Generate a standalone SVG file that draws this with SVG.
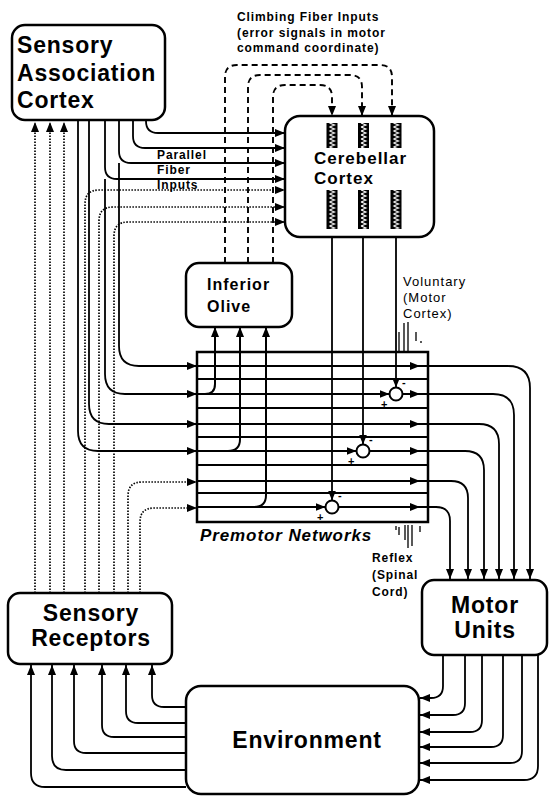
<svg xmlns="http://www.w3.org/2000/svg" width="550" height="798" viewBox="0 0 550 798">
<style>
.box{fill:#fff;stroke:#000;stroke-width:2.5}
.ln{fill:none;stroke:#000;stroke-width:1.8}
.dot{fill:none;stroke:#000;stroke-width:1.7;stroke-dasharray:1.5 1.5}
.dash{fill:none;stroke:#000;stroke-width:1.9;stroke-dasharray:6 4}
.gl{fill:none;stroke:#000;stroke-width:2}
.hm{fill:none;stroke:#000;stroke-width:1.3}
text{font-family:"Liberation Sans",Arial,Helvetica,sans-serif;fill:#000}
.big{font-size:23px;font-weight:bold;letter-spacing:0.8px}
.mid{font-size:17px;font-weight:bold;letter-spacing:1px}
.sm{font-size:12px;font-weight:bold;letter-spacing:0.9px}
.vol{font-size:13px;letter-spacing:1px}
.sign{font-size:11px;font-weight:bold}
</style>
<defs>
<marker id="ah" viewBox="0 0 10 8" refX="10" refY="4" markerWidth="10" markerHeight="8" markerUnits="userSpaceOnUse" orient="auto"><path d="M0,0 L10,4 L0,8 z" fill="#000"/></marker>
<pattern id="hatch" width="11" height="4" patternUnits="userSpaceOnUse"><rect width="11" height="4" fill="#000"/><path d="M3,0 L8,2 L3,4" stroke="#fff" stroke-width="1.1" fill="none"/></pattern>
<rect id="barT" width="11" height="25" fill="url(#hatch)"/>
<rect id="barB" width="11" height="39" fill="url(#hatch)"/>
</defs>
<rect width="550" height="798" fill="#fff"/>

<g id="connectors">
<!-- climbing fibers -->
<path class="dash" d="M225,263 V77 Q225,65 237,65 H380 Q392,65 392,77 V116" marker-end="url(#ah)"/>
<path class="dash" d="M248,263 V87 Q248,75 260,75 H350 Q362,75 362,87 V116" marker-end="url(#ah)"/>
<path class="dash" d="M273,263 V97 Q273,85 285,85 H320 Q332,85 332,97 V116" marker-end="url(#ah)"/>
<!-- parallel fibers from SAC -->
<path class="ln" d="M146,120 V121 Q146,133 158,133 H285" marker-end="url(#ah)"/>
<path class="ln" d="M133,120 V136 Q133,148 145,148 H285" marker-end="url(#ah)"/>
<path class="ln" d="M119,120 V151 Q119,163 131,163 H285" marker-end="url(#ah)"/>
<path class="ln" d="M105,120 V167 Q105,179 117,179 H285" marker-end="url(#ah)"/>
<!-- SAC to premotor -->
<path class="ln" d="M119,163 V346 Q119,366 139,366 H197" marker-end="url(#ah)"/>
<path class="ln" d="M105,179 V374 Q105,394 125,394 H197" marker-end="url(#ah)"/>
<path class="ln" d="M89,120 V404 Q89,424 109,424 H197" marker-end="url(#ah)"/>
<path class="ln" d="M78,120 V431 Q78,451 98,451 H197" marker-end="url(#ah)"/>
<!-- dotted from sensory receptors -->
<path class="dot" d="M35,593 V122" marker-end="url(#ah)"/>
<path class="dot" d="M50,593 V122" marker-end="url(#ah)"/>
<path class="dot" d="M64,593 V122" marker-end="url(#ah)"/>
<path class="dot" d="M85,593 V204 Q85,190 99,190 H285" marker-end="url(#ah)"/>
<path class="dot" d="M99,593 V221 Q99,207 113,207 H285" marker-end="url(#ah)"/>
<path class="dot" d="M114,593 V236 Q114,222 128,222 H285" marker-end="url(#ah)"/>
<path class="dot" d="M128,593 V496 Q128,482 142,482 H197" marker-end="url(#ah)"/>
<path class="dot" d="M140,593 V522 Q140,508 154,508 H197" marker-end="url(#ah)"/>
<!-- grid lines -->
<path class="gl" d="M197,379 H428 M197,408 H428 M197,437 H428 M197,465 H428 M197,493 H428"/>
<path class="gl" d="M197,366 H420" marker-end="url(#ah)"/>
<path class="gl" d="M197,424 H420" marker-end="url(#ah)"/>
<path class="gl" d="M197,481 H420" marker-end="url(#ah)"/>
<path class="gl" d="M197,394 H389.5" marker-end="url(#ah)"/>
<path class="gl" d="M197,451 H356.5" marker-end="url(#ah)"/>
<path class="gl" d="M197,507 H325.5" marker-end="url(#ah)"/>
<path class="gl" d="M402.5,394 H420" marker-end="url(#ah)"/>
<path class="gl" d="M369.5,451 H420" marker-end="url(#ah)"/>
<path class="gl" d="M338.5,507 H420" marker-end="url(#ah)"/>
<!-- to inferior olive -->
<path class="gl" d="M197,394 H205 Q215,394 215,384 V327" marker-end="url(#ah)"/>
<path class="gl" d="M222,451 H228 Q240,451 240,439 V327" marker-end="url(#ah)"/>
<path class="gl" d="M250,507 H254 Q266,507 266,495 V327" marker-end="url(#ah)"/>
<!-- cerebellar outputs to summing nodes -->
<path class="ln" d="M396,237 V387.5" marker-end="url(#ah)"/>
<path class="ln" d="M363,237 V444.5" marker-end="url(#ah)"/>
<path class="ln" d="M332,237 V500.5" marker-end="url(#ah)"/>
<!-- premotor to motor units -->
<path class="ln" d="M420,366 H508 Q530,366 530,388 V579" marker-end="url(#ah)"/>
<path class="ln" d="M420,394 H493 Q514,394 514,415 V579" marker-end="url(#ah)"/>
<path class="ln" d="M420,424 H479 Q499,424 499,444 V579" marker-end="url(#ah)"/>
<path class="ln" d="M420,451 H465 Q484,451 484,470 V579" marker-end="url(#ah)"/>
<path class="ln" d="M420,481 H451 Q468,481 468,498 V579" marker-end="url(#ah)"/>
<path class="ln" d="M420,507 H436 Q450,507 450,521 V579" marker-end="url(#ah)"/>
<!-- motor units to environment -->
<path class="ln" d="M443,655 V686 Q443,698 431,698 H420" marker-end="url(#ah)"/>
<path class="ln" d="M465,655 V703 Q465,715 453,715 H420" marker-end="url(#ah)"/>
<path class="ln" d="M482,655 V720 Q482,732 470,732 H420" marker-end="url(#ah)"/>
<path class="ln" d="M503,655 V735 Q503,747 491,747 H420" marker-end="url(#ah)"/>
<path class="ln" d="M522,655 V751 Q522,763 510,763 H420" marker-end="url(#ah)"/>
<path class="ln" d="M538,655 V766 Q538,780 524,780 H420" marker-end="url(#ah)"/>
<!-- environment to sensory receptors -->
<path class="ln" d="M186,707 H164 Q152,707 152,695 V665" marker-end="url(#ah)"/>
<path class="ln" d="M186,723 H138 Q126,723 126,711 V665" marker-end="url(#ah)"/>
<path class="ln" d="M186,737 H114 Q102,737 102,725 V665" marker-end="url(#ah)"/>
<path class="ln" d="M186,753 H86 Q74,753 74,741 V665" marker-end="url(#ah)"/>
<path class="ln" d="M186,770 H66 Q52,770 52,756 V665" marker-end="url(#ah)"/>
<path class="ln" d="M186,787 H45 Q31,787 31,773 V665" marker-end="url(#ah)"/>
<!-- voluntary / reflex hatch marks -->
<path class="hm" d="M399,332 V352 M404,323 V352 M408,322 V352 M416,332 V341 M421,341 V343"/>
<path class="hm" d="M396,526 V530 M399,527 V535 M405,525 V540 M408,525 V548 M412,525 V546 M420,526 V532"/>
</g>

<g id="premotor">
<rect x="197" y="352" width="231" height="170" fill="none" stroke="#000" stroke-width="2.5"/>
<circle cx="396" cy="394" r="6.5" fill="#fff" stroke="#000" stroke-width="2"/>
<circle cx="363" cy="451" r="6.5" fill="#fff" stroke="#000" stroke-width="2"/>
<circle cx="332" cy="507" r="6.5" fill="#fff" stroke="#000" stroke-width="2"/>
<text class="sign" x="381" y="408">+</text><text class="sign" x="402" y="386">-</text>
<text class="sign" x="348" y="465">+</text><text class="sign" x="369" y="443">-</text>
<text class="sign" x="317" y="521">+</text><text class="sign" x="338" y="499">-</text>
<text x="200" y="541" style="font-size:17px;font-weight:bold;font-style:italic;letter-spacing:0.9px">Premotor Networks</text>
</g>

<g id="sac">
<rect class="box" x="12" y="25" width="153" height="95" rx="13"/>
<text class="big" x="17" y="53">Sensory</text>
<text class="big" x="17" y="81">Association</text>
<text class="big" x="17" y="108">Cortex</text>
</g>

<g id="cerebellar">
<rect class="box" x="285" y="116" width="149" height="121" rx="15"/>
<use href="#barT" x="326.5" y="123"/>
<use href="#barT" x="358" y="123"/>
<use href="#barT" x="390.5" y="123"/>
<use href="#barB" x="326.5" y="190"/>
<use href="#barB" x="358" y="190"/>
<use href="#barB" x="390.5" y="190"/>
<text class="mid" x="314" y="164">Cerebellar</text>
<text class="mid" x="314" y="184">Cortex</text>
</g>

<g id="olive">
<rect class="box" x="186" y="263" width="106" height="64" rx="13"/>
<text x="207" y="290" style="font-size:16px;font-weight:bold;letter-spacing:1px">Inferior</text>
<text x="207" y="312" style="font-size:16px;font-weight:bold;letter-spacing:1px">Olive</text>
</g>

<g id="receptors">
<rect class="box" x="8" y="593" width="164" height="71" rx="12"/>
<text class="big" x="91" y="621" text-anchor="middle">Sensory</text>
<text class="big" x="91" y="646" text-anchor="middle">Receptors</text>
</g>

<g id="motor">
<rect class="box" x="422" y="580" width="125" height="75" rx="12"/>
<text class="big" x="485" y="613" text-anchor="middle">Motor</text>
<text class="big" x="485" y="638" text-anchor="middle">Units</text>
</g>

<g id="environment">
<rect class="box" x="186" y="686" width="233" height="108" rx="15"/>
<text class="big" x="307" y="748" text-anchor="middle">Environment</text>
</g>

<g id="labels">
<text class="sm" x="237" y="21">Climbing Fiber Inputs</text>
<text class="sm" x="237" y="37">(error signals in motor</text>
<text class="sm" x="237" y="52">command coordinate)</text>
<text class="sm" x="157" y="159">Parallel</text>
<text class="sm" x="157" y="174">Fiber</text>
<text class="sm" x="157" y="189">Inputs</text>
<text class="vol" x="403" y="286">Voluntary</text>
<text class="vol" x="403" y="302">(Motor</text>
<text class="vol" x="403" y="318">Cortex)</text>
<text class="sm" x="372" y="562">Reflex</text>
<text class="sm" x="372" y="579">(Spinal</text>
<text class="sm" x="372" y="596">Cord)</text>
</g>
</svg>
